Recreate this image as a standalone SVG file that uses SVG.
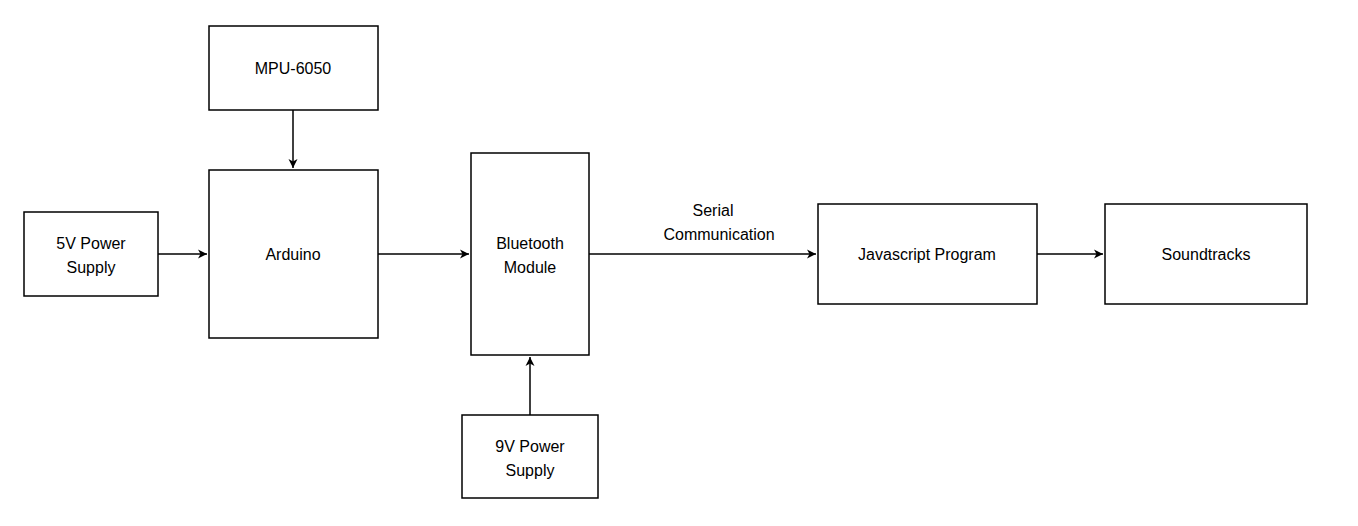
<svg xmlns="http://www.w3.org/2000/svg" width="1358" height="526" viewBox="0 0 1358 526">
<style>
.b{fill:#fff;stroke:#000;stroke-width:1.5}
.t{font-family:"Liberation Sans",Arial,sans-serif;font-size:16px;fill:#000;text-anchor:middle}
.c{stroke:#000;stroke-width:1.5;fill:none;marker-end:url(#a)}
</style>
<defs><marker id="a" markerWidth="12" markerHeight="12" refX="10" refY="6" orient="auto" markerUnits="userSpaceOnUse"><path d="M1,1.5 L10,6 L1,10.5 L3.5,6 Z" fill="#000"/></marker></defs>
<rect width="1358" height="526" fill="#fff"/>
<g id="connectors">
<path class="c" d="M293,110 V168"/>
<path class="c" d="M158,254 H207"/>
<path class="c" d="M378,254 H469"/>
<path class="c" d="M589,254 H816"/>
<path class="c" d="M530,415 V357"/>
<path class="c" d="M1037,254 H1103"/>
<text class="t" x="713" y="216">Serial</text>
<text class="t" x="719" y="240">Communication</text>
</g>
<g id="mpu"><rect class="b" x="209" y="26" width="169" height="84"/><text class="t" x="293" y="74">MPU-6050</text></g>
<g id="arduino"><rect class="b" x="209" y="170" width="169" height="168"/><text class="t" x="293" y="260">Arduino</text></g>
<g id="psu5"><rect class="b" x="24" y="212" width="134" height="84"/><text class="t" x="91" y="249">5V Power</text><text class="t" x="91" y="273">Supply</text></g>
<g id="bt"><rect class="b" x="471" y="153" width="118" height="202"/><text class="t" x="530" y="249">Bluetooth</text><text class="t" x="530" y="273">Module</text></g>
<g id="psu9"><rect class="b" x="462" y="415" width="136" height="83"/><text class="t" x="530" y="452">9V Power</text><text class="t" x="530" y="476">Supply</text></g>
<g id="js"><rect class="b" x="818" y="204" width="219" height="100"/><text class="t" x="927" y="260">Javascript Program</text></g>
<g id="sound"><rect class="b" x="1105" y="204" width="202" height="100"/><text class="t" x="1206" y="260">Soundtracks</text></g>
</svg>
